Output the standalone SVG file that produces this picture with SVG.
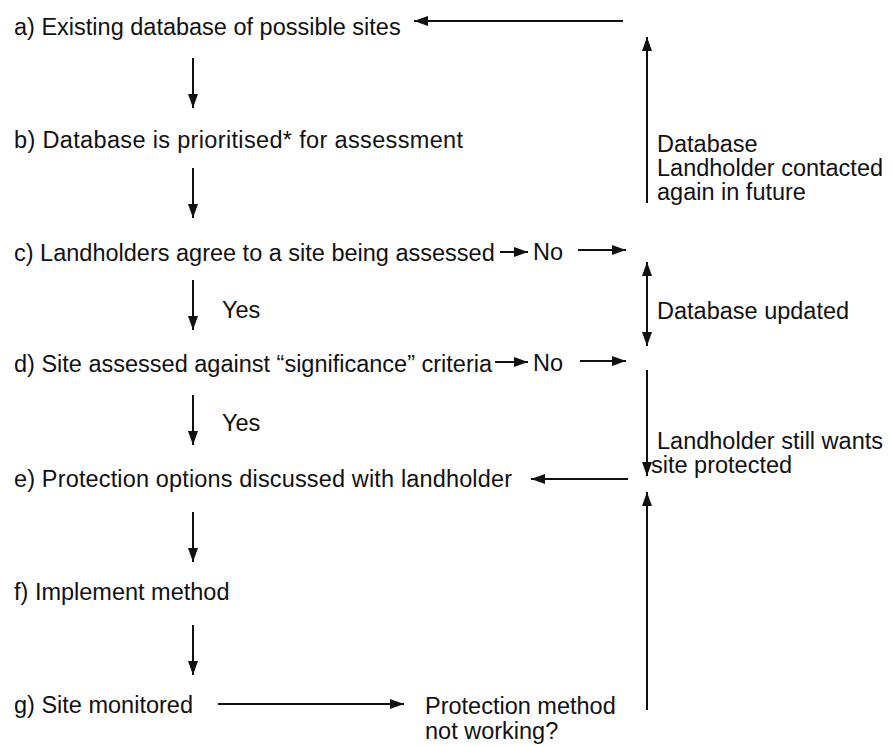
<svg xmlns="http://www.w3.org/2000/svg" width="893" height="746" viewBox="0 0 893 746">
<defs>
<style>
text{font-family:"Liberation Sans",Arial,sans-serif;font-size:23.5px;fill:#111;}
.c line{stroke:#111;stroke-width:2;fill:none;}
.a{marker-end:url(#ah);}
.d{marker-start:url(#ah);marker-end:url(#ah);}
</style>
<marker id="ah" markerUnits="userSpaceOnUse" markerWidth="14" markerHeight="10" refX="14" refY="5" orient="auto-start-reverse">
<path d="M0,0 L14,5 L0,10 z" fill="#111"/>
</marker>
</defs>
<rect width="893" height="746" fill="#fff"/>
<g id="node-a"><text x="14" y="35">a) Existing database of possible sites</text></g>
<g id="node-b"><text x="14" y="148" textLength="449" lengthAdjust="spacing">b) Database is prioritised* for assessment</text></g>
<g id="node-c"><text x="14" y="261">c) Landholders agree to a site being assessed</text></g>
<g id="node-d"><text x="14" y="372">d) Site assessed against “significance” criteria</text></g>
<g id="node-e"><text x="14" y="487" textLength="498" lengthAdjust="spacing">e) Protection options discussed with landholder</text></g>
<g id="node-f"><text x="14" y="600">f) Implement method</text></g>
<g id="node-g"><text x="14" y="713">g) Site monitored</text></g>
<g id="node-no1"><text x="533" y="260">No</text></g>
<g id="node-no2"><text x="533" y="371">No</text></g>
<g id="node-notworking"><text x="425" y="714">Protection method</text><text x="425" y="739">not working?</text></g>
<g id="labels">
<text x="222" y="318">Yes</text>
<text x="222" y="431">Yes</text>
<text x="657" y="152">Database</text>
<text x="657" y="176">Landholder contacted</text>
<text x="657" y="200">again in future</text>
<text x="657" y="319">Database updated</text>
<text x="657" y="449">Landholder still wants</text>
<text x="651" y="473">site protected</text>
</g>
<g id="connectors" class="c">
<line class="a" x1="193" y1="58" x2="193" y2="108"/>
<line class="a" x1="193" y1="168" x2="193" y2="218"/>
<line class="a" x1="193" y1="280" x2="193" y2="330"/>
<line class="a" x1="193" y1="395" x2="193" y2="445"/>
<line class="a" x1="193" y1="512" x2="193" y2="562"/>
<line class="a" x1="193" y1="625" x2="193" y2="675"/>
<line class="a" x1="218" y1="704" x2="404" y2="704"/>
<line class="a" x1="500" y1="252" x2="528" y2="252"/>
<line class="a" x1="578" y1="250" x2="626" y2="250"/>
<line class="a" x1="495" y1="362" x2="528" y2="362"/>
<line class="a" x1="580" y1="361" x2="626" y2="361"/>
<line class="a" x1="623" y1="21" x2="414" y2="21"/>
<line class="a" x1="647" y1="203" x2="647" y2="37"/>
<line class="d" x1="647" y1="262" x2="647" y2="346"/>
<line class="a" x1="647" y1="370" x2="647" y2="476"/>
<line class="a" x1="628" y1="479" x2="531" y2="479"/>
<line class="a" x1="647" y1="710" x2="647" y2="492"/>
</g>
</svg>
